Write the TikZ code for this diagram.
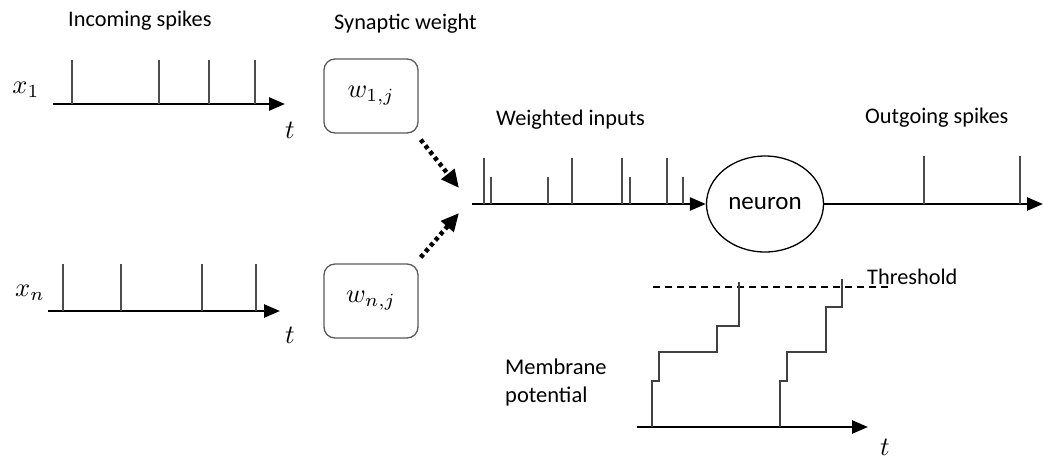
\documentclass[tikz,border=0pt]{standalone}
\usepackage{graphicx}
\usepackage{fontspec}
\setmainfont{Carlito}
\usetikzlibrary{arrows.meta,shapes.geometric}
\newcommand{\mathlabelbig}[1]{\scalebox{2.65}{$#1$}}
\begin{document}
\begin{tikzpicture}[x=1pt,y=-1pt,
  lbl/.style={font=\fontsize{22.3}{26}\selectfont, inner sep=0pt, anchor=west},
  mlbl/.style={inner sep=0pt},
  axis/.style={line width=2.6pt, -{Triangle[length=16pt,width=13pt]}},
  spike/.style={draw=black!70, line width=1.4pt},
  wbox/.style={draw=black!65, line width=1.3pt, rounded corners=11pt, minimum width=94pt, minimum height=74pt, inner sep=0pt},
  dotarrow/.style={line width=4.5pt, dash pattern=on 4pt off 3.5pt, -{Triangle[length=18pt,width=16pt]}},
  pot/.style={draw=black!75, line width=1.4pt}
]
\useasboundingbox (0,0) rectangle (1043,459);

% labels
\node[lbl] (tin) at (68,21) {Incoming spikes};
\node[lbl] (tsyn) at (334,24) {Synaptic weight};
\node[lbl] (tw) at (496,120) {Weighted inputs};
\node[lbl] (tout) at (865,118) {Outgoing spikes};
\node[lbl] (tthr) at (867,277) {Threshold};
\node[lbl, align=left, font=\fontsize{22.5}{28}\selectfont] (tmem) at (505,382) {Membrane\\potential};

% top input train
\node[mlbl] (x1) at (26,90) {\mathlabelbig{x_1}};
\coordinate (a1s) at (53,104);
\coordinate (a1e) at (285,104);
\draw[axis] (a1s) -- (a1e);
\foreach \x in {72,159,209,255} \draw[spike] (\x,104) -- (\x,60);
\node[mlbl] (t1) at (290,130) {\mathlabelbig{t}};

% bottom input train
\node[mlbl] (xn) at (30,293) {\mathlabelbig{x_n}};
\coordinate (a2s) at (48,311);
\coordinate (a2e) at (280,311);
\draw[axis] (a2s) -- (a2e);
\foreach \x in {63,121,202,256} \draw[spike] (\x,311) -- (\x,264);
\node[mlbl] (t2) at (290,335) {\mathlabelbig{t}};

% weight boxes
\node[wbox] (w1) at (371,96) {\mathlabelbig{w_{1,j}}};
\node[wbox] (wn) at (371,301) {\mathlabelbig{w_{n,j}}};
\draw[dotarrow] (w1.south east) ++(2,6) coordinate (d1) -- (459,188);
\draw[dotarrow] (wn.north east) ++(2,-6) coordinate (d2) -- (459,213);

% weighted inputs
\node[draw, line width=1.3pt, ellipse, minimum width=117pt, minimum height=96pt, inner sep=0pt, font=\fontsize{25}{29}\selectfont] (neu) at (765,204) {neuron};
\coordinate (a3s) at (472,204);
\draw[axis] (a3s) -- (neu.west);
\foreach \x in {484,572,622,667} \draw[spike] (\x,204) -- (\x,158);
\foreach \x in {491,548,630,683} \draw[spike] (\x,204) -- (\x,177);

% outgoing
\coordinate (a4e) at (1043,204);
\draw[axis] (neu.east) -- (a4e);
\foreach \x in {924,1020} \draw[spike] (\x,204) -- (\x,156);

% membrane potential
\coordinate (a5s) at (637,427);
\coordinate (a5e) at (868,427);
\draw[axis] (a5s) -- (a5e);
\node[mlbl] (t3) at (885,447) {\mathlabelbig{t}};
\draw[line width=1.3pt, dash pattern=on 7pt off 5pt] (653,287) -- (890,287);
\draw[pot] (652,427) |- (659,381) |- (717,352) |- (739,326) -- (739,282);
\draw[pot] (780,427) |- (787,381) |- (826,352) |- (842,307) -- (842,279);
\end{tikzpicture}
\end{document}
